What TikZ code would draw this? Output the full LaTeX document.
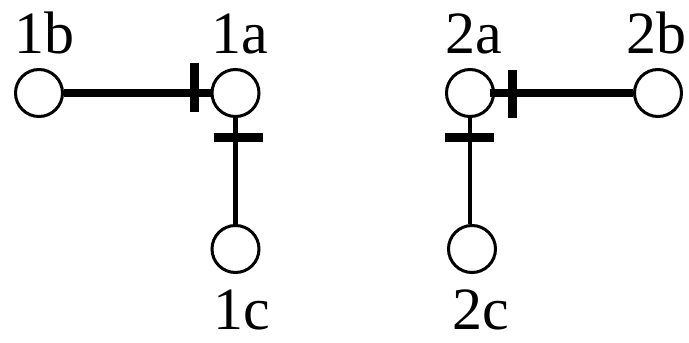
\documentclass[tikz,border=0pt]{standalone}
\usepackage{fontspec}
\setmainfont{Liberation Serif}
\usetikzlibrary{calc}
\begin{document}
\begin{tikzpicture}[x=1pt,y=-1pt,
 vtx/.style={circle,draw,line width=3pt,minimum size=47pt,inner sep=0pt},
 lbl/.style={font=\fontsize{60}{60}\selectfont,anchor=base,inner sep=0pt,text depth=0pt},
 heavy/.style={line width=7.5pt},
 light/.style={line width=4.5pt},
 bar/.style={line width=9pt}]
\useasboundingbox (0,0) rectangle (689,343);
\node[vtx] (1b) at (39,93) {};
\node[vtx] (1a) at (235.5,93) {};
\node[vtx] (1c) at (235.5,249) {};
\node[vtx] (2a) at (470,93) {};
\node[vtx] (2b) at (658,93) {};
\node[vtx] (2c) at (472,249) {};
\node[lbl] (l1b) at (45,53) {1b};
\node[lbl] (l1a) at (240,53) {1a};
\node[lbl] (l2a) at (473.5,53) {2a};
\node[lbl] (l2b) at (656,53) {2b};
\node[lbl] (l1c) at (241.5,329) {1c};
\node[lbl] (l2c) at (481,329) {2c};
\draw[heavy] (1b) -- (1a);
\draw[bar] ($(1a)+(-41.5,-30)$) -- ($(1a)+(-41.5,19)$);
\draw[light] (1a) -- (1c);
\draw[bar] ($(1a)+(-22,44.5)$) -- ($(1a)+(27,44.5)$);
\draw[heavy] ($(2a)+(20,0)$) -- (2b);
\draw[bar] ($(2a)+(42.5,-23)$) -- ($(2a)+(42.5,25)$);
\draw[light] (2a.south) -- (2a |- 2c.north);
\draw[bar] ($(2a)+(-25,44)$) -- ($(2a)+(24,44)$);
\end{tikzpicture}
\end{document}
